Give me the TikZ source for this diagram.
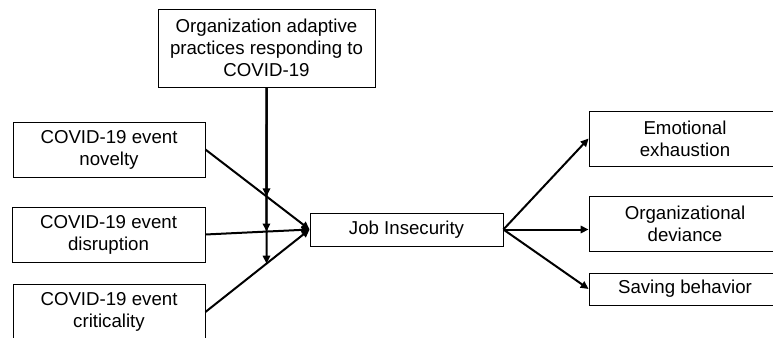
\documentclass[tikz,border=0pt]{standalone}
\usepackage{fontspec}
\setmainfont{Liberation Sans}
\usetikzlibrary{arrows.meta}
\usepackage{xcolor}
\definecolor{bgColor}{HTML}{ffffff}
\definecolor{fgColor}{HTML}{000000}

\tikzset{
	box/.style={draw=fgColor, line width=0.6pt, fill=bgColor, align=center, inner sep=0pt, text=fgColor, font=\fontsize{14}{16.5}\selectfont},
	link/.style={draw=fgColor, line width=1.5pt, -{Triangle[length=6pt,width=5.5pt]}},
}

\begin{document}
\begin{tikzpicture}[x=0.75pt,y=0.75pt,yscale=-1]
		\clip (0,0) rectangle (773,338);

		% Boxes
		\node [box, minimum width=162.75pt, minimum height=58.5pt]  (org) at (266.5,48)    {Organization adaptive\\practices responding to\\COVID-19};
		\node [box, minimum width=144pt,    minimum height=41.25pt] (nov) at (109,149.5)   {COVID-19 event\\novelty};
		\node [box, minimum width=144.75pt, minimum height=41.25pt] (dis) at (108.5,234.5) {COVID-19 event\\disruption};
		\node [box, minimum width=144pt,    minimum height=42pt]    (cri) at (109,312)     {COVID-19 event\\criticality};
		\node [box, minimum width=144.75pt, minimum height=24.75pt] (ji)  at (406.5,229.5) {Job Insecurity};
		\node [box, minimum width=144pt,    minimum height=41.25pt] (emo) at (685,138.5)   {Emotional\\exhaustion};
		\node [box, minimum width=144pt,    minimum height=41.25pt] (dev) at (685,223.5)   {Organizational\\deviance};
		\node [box, minimum width=144pt,    minimum height=24pt]    (sav) at (685,289)     {Saving behavior};

		% Crossing points
		\coordinate (base) at (org.south |- cri.south);
		\coordinate (m1) at (intersection of org.south--base and nov.east--ji.west);
		\coordinate (m2) at (intersection of org.south--base and dis.east--ji.west);
		\coordinate (m3) at (intersection of org.south--base and cri.east--ji.west);

		% Arrows
		\draw [link] (nov.east) -- (ji.west);
		\draw [link] (dis.east) -- (ji.west);
		\draw [link] (cri.east) -- (ji.west);
		\draw [link] (org.south) -- (m1);
		\draw [link] (org.south) -- (m2);
		\draw [link] (org.south) -- (m3);
		\draw [link] (ji.east) -- (emo.west);
		\draw [link] (ji.east) -- (ji.east -| dev.west);
		\draw [link] (ji.east) -- (sav.west);
	\end{tikzpicture}
\end{document}
